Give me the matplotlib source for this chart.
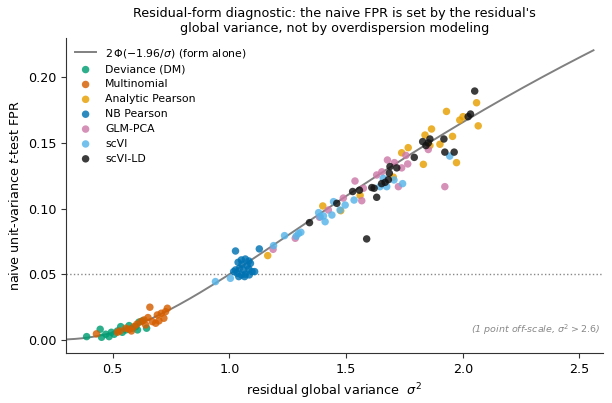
import numpy as np
import matplotlib
matplotlib.use("Agg")
import matplotlib.pyplot as plt
from math import erf, sqrt

# ---------------- data ----------------
dev_x = [0.388, 0.446, 0.452, 0.470, 0.484, 0.494, 0.506, 0.520, 0.534, 0.541,
         0.556, 0.570, 0.584, 0.598, 0.612, 0.627, 0.645, 0.606]
dev_y = [0.0025, 0.0081, 0.0020, 0.0043, 0.0025, 0.0058, 0.0043, 0.0068, 0.0101, 0.0058,
         0.0076, 0.0109, 0.0089, 0.0101, 0.0135, 0.0145, 0.0089, 0.0076]

mult_x = [0.430, 0.520, 0.531, 0.556, 0.570, 0.591, 0.603, 0.620, 0.634, 0.651,
          0.659, 0.670, 0.684, 0.698, 0.708, 0.719, 0.726, 0.734, 0.691, 0.641, 0.580]
mult_y = [0.0046, 0.0058, 0.0068, 0.0089, 0.0081, 0.0101, 0.0119, 0.0139, 0.0152, 0.0170,
          0.0249, 0.0139, 0.0127, 0.0145, 0.0203, 0.0165, 0.0215, 0.0241, 0.0190, 0.0114, 0.0068]

ap_x = [1.164, 1.400, 1.477, 1.560, 1.702, 1.738, 1.766, 1.831, 1.838, 1.866,
        1.859, 1.902, 1.956, 1.973, 1.930, 1.987, 2.001, 2.059, 2.066]
ap_y = [0.0642, 0.1020, 0.0984, 0.1100, 0.1240, 0.1425, 0.1464, 0.1337, 0.1560, 0.1606,
        0.1480, 0.1490, 0.1550, 0.1350, 0.1740, 0.1674, 0.1700, 0.1806, 0.1630]

nb_x = [1.026, 1.128, 1.051, 1.068, 1.083, 1.037, 1.054, 1.076, 1.090, 1.026, 1.043,
        1.061, 1.083, 1.097, 1.033, 1.051, 1.068, 1.085, 1.040, 1.065, 1.018, 1.108]
nb_y = [0.0677, 0.0693, 0.0609, 0.0616, 0.0601, 0.0591, 0.0576, 0.0565, 0.0583, 0.0533, 0.0545,
        0.0533, 0.0540, 0.0520, 0.0507, 0.0495, 0.0500, 0.0495, 0.0482, 0.0482, 0.0520, 0.0520]

glm_x = [1.187, 1.282, 1.386, 1.424, 1.488, 1.538, 1.567, 1.574, 1.631, 1.653,
         1.677, 1.707, 1.738, 1.764, 1.756, 1.724, 1.852, 1.923]
glm_y = [0.0690, 0.0774, 0.0934, 0.0989, 0.1080, 0.1210, 0.1060, 0.1155, 0.1256, 0.1280,
         0.1370, 0.1350, 0.1310, 0.1340, 0.1405, 0.1167, 0.1450, 0.1167]

scvi_x = [0.940, 1.004, 1.189, 1.236, 1.286, 1.296, 1.306, 1.382, 1.389, 1.410, 1.403,
          1.439, 1.446, 1.474, 1.496, 1.534, 1.645, 1.659, 1.674, 1.705, 1.742, 1.944]
scvi_y = [0.0444, 0.0469, 0.0718, 0.0794, 0.0790, 0.0810, 0.0820, 0.0969, 0.0938, 0.0900, 0.0944,
          0.0951, 0.1053, 0.0989, 0.1027, 0.1065, 0.1167, 0.1230, 0.1167, 0.1218, 0.1190, 0.1400]

ld_x = [1.343, 1.460, 1.528, 1.557, 1.610, 1.620, 1.631, 1.588, 1.652, 1.667, 1.681,
        1.685, 1.688, 1.717, 1.792, 1.828, 1.859, 1.852, 1.842, 1.919, 1.923, 1.963,
        2.023, 2.033, 2.051]
ld_y = [0.0893, 0.1040, 0.1130, 0.1140, 0.1160, 0.1155, 0.1086, 0.0769, 0.1190, 0.1200, 0.1220,
        0.1270, 0.1320, 0.1310, 0.1390, 0.1510, 0.1530, 0.1500, 0.1480, 0.1530, 0.1430, 0.1430,
        0.1700, 0.1720, 0.1895]

series = [
    ("Deviance (DM)", dev_x, dev_y, "#009E73"),
    ("Multinomial", mult_x, mult_y, "#D55E00"),
    ("Analytic Pearson", ap_x, ap_y, "#E69F00"),
    ("NB Pearson", nb_x, nb_y, "#0072B2"),
    ("GLM-PCA", glm_x, glm_y, "#CC79A7"),
    ("scVI", scvi_x, scvi_y, "#56B4E9"),
    ("scVI-LD", ld_x, ld_y, "#111111"),
]

# ---------------- figure ----------------
fig = plt.figure(figsize=(6.12, 4.03), dpi=100)
ax = fig.add_axes([0.108, 0.124, 0.877, 0.782])

# theoretical curve
xs = np.linspace(0.30, 2.56, 300)
phi = np.array([0.5 * (1 + erf((-1.96 / sqrt(v)) / sqrt(2))) for v in xs])
ax.plot(xs, 2 * phi, color="#808080", lw=1.4, label=r"$2\,\Phi(-1.96/\sigma)$ (form alone)", zorder=1)

ax.axhline(0.05, color="#888888", ls=":", lw=1.0, zorder=0)

for name, x, y, c in series:
    ax.scatter(x, y, s=29, color=c, alpha=0.82, edgecolors="none", label=name, zorder=3)

ax.set_xlim(0.30, 2.60)
ax.set_ylim(-0.01, 0.23)
ax.set_xticks([0.5, 1.0, 1.5, 2.0, 2.5])
ax.set_yticks([0.0, 0.05, 0.10, 0.15, 0.20])
ax.set_yticklabels(["0.00", "0.05", "0.10", "0.15", "0.20"])
ax.tick_params(labelsize=9.2, length=3.5, color="#333333")
for s in ("top", "right"):
    ax.spines[s].set_visible(False)
for s in ("left", "bottom"):
    ax.spines[s].set_color("#333333")

ax.set_xlabel(r"residual global variance  $\sigma^2$", fontsize=9.2)
ax.set_ylabel(r"naive unit-variance $t$-test FPR", fontsize=9.2)
ax.set_title("Residual-form diagnostic: the naive FPR is set by the residual's\n"
             "global variance, not by overdispersion modeling", fontsize=9.2, pad=4,
             linespacing=1.25)

ax.text(0.995, 0.075, r"(1 point off-scale, $\sigma^2 > 2.6$)", transform=ax.transAxes,
        ha="right", va="center", fontsize=6.8, style="italic", color="#888888")

ax.legend(loc="upper left", frameon=False, fontsize=7.8, handlelength=2.0,
          borderaxespad=0.4, labelspacing=0.45)

fig.savefig("out.png", dpi=100)
